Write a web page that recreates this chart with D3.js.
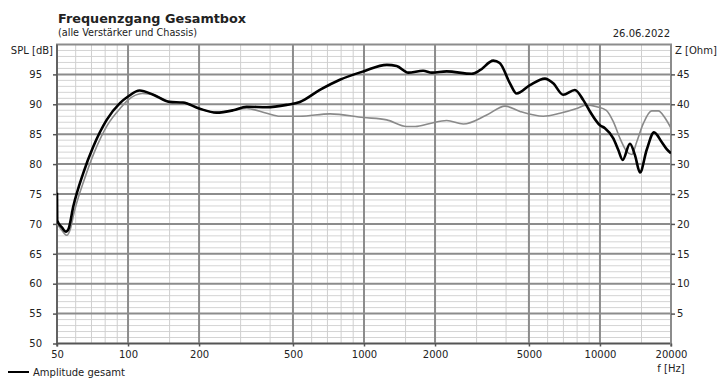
<!DOCTYPE html>
<html><head><meta charset="utf-8">
<script src="https://cdn.jsdelivr.net/npm/d3@7"></script>
<style>
body{margin:0;background:#fff}
svg{display:block}
text{font-family:"DejaVu Sans",sans-serif;fill:#222}
</style>
</head><body>
<svg id="c" width="720" height="381"></svg>
<script>
// ---- data ----
const freqBlack = [50, 50.1, 52.5, 54.5, 56, 58.6, 64.6, 71.2, 81.2, 92.4, 100, 112, 128, 150, 171, 200, 237, 279, 318, 387, 470, 535, 650, 790, 993, 1250, 1375, 1540, 1780, 1940, 2240, 2860, 3100, 3530, 3760, 4155, 4435, 5050, 5845, 6340, 6980, 7830, 8500, 9070, 10000, 10500, 11390, 11950, 12480, 13400, 14070, 14780, 15780, 16940, 18260, 19180, 20000];
const splBlack  = [75.2, 70.6, 69.4, 68.7, 69.2, 72.9, 78.5, 82.9, 87.4, 90.2, 91.3, 92.3, 91.6, 90.4, 90.3, 89.3, 88.6, 89.0, 89.6, 89.5, 89.9, 90.4, 92.4, 94.1, 95.5, 96.6, 96.4, 95.3, 95.6, 95.3, 95.5, 95.1, 95.7, 97.3, 96.9, 93.5, 91.8, 93.2, 94.3, 93.5, 91.6, 92.4, 90.7, 88.8, 86.5, 86.0, 84.3, 82.4, 80.7, 83.4, 81.5, 78.6, 82.4, 85.3, 83.7, 82.5, 81.8];
const freqGray  = [50, 52.5, 55, 57, 59, 65.5, 72, 82, 93.5, 100, 115, 130, 150, 175, 200, 237, 279, 318, 387, 440, 535, 718, 993, 1248, 1515, 1650, 1904, 2241, 2636, 3312, 3962, 4583, 5752, 6770, 7966, 8787, 9693, 10640, 11390, 12160, 12990, 13630, 14310, 15270, 16560, 17670, 18870, 20000];
const splGray   = [70.0, 68.9, 68.1, 69.2, 71.8, 77.6, 82.0, 86.6, 89.5, 90.7, 91.8, 91.5, 90.4, 90.2, 89.3, 88.6, 89.0, 89.3, 88.5, 88.0, 88.0, 88.4, 87.8, 87.4, 86.3, 86.3, 86.8, 87.3, 86.7, 88.2, 89.7, 88.8, 88.0, 88.5, 89.3, 89.9, 89.6, 89.0, 87.1, 84.3, 82.1, 81.6, 83.7, 86.8, 88.9, 88.9, 87.7, 86.0];
const xTicks = [50, 100, 200, 500, 1000, 2000, 5000, 10000, 20000];
const xMajorGrid = [100, 200, 500, 1000, 2000, 5000, 10000];
const xMinorGrid = [60, 70, 80, 90, 150, 300, 400, 600, 700, 800, 900, 1500, 3000, 4000, 6000, 7000, 8000, 9000, 15000];
const splTicks = [50, 55, 60, 65, 70, 75, 80, 85, 90, 95];
const zTicks = [5, 10, 15, 20, 25, 30, 35, 40, 45];

// ---- layout ----
const L = 57, R = 671, T = 44.5, B = 343.5;
const svg = d3.select("#c");
const x = d3.scaleLog().domain([50, 20000]).range([L, R]);
const y = d3.scaleLinear().domain([50, 100]).range([B, T]);
const yZ = d3.scaleLinear().domain([0, 50]).range([B, T]);

const g = svg.append("g");
// minor horizontal grid
g.selectAll(".hmin").data(d3.range(51, 100).filter(v => v % 5 !== 0)).join("line")
  .attr("x1", L).attr("x2", R).attr("y1", d => y(d)).attr("y2", d => y(d))
  .attr("stroke", "#d4d4d4").attr("stroke-width", 1);
// minor vertical grid
g.selectAll(".vmin").data(xMinorGrid).join("line")
  .attr("x1", d => x(d)).attr("x2", d => x(d)).attr("y1", T).attr("y2", B)
  .attr("stroke", "#cfcfcf").attr("stroke-width", 1);
// major horizontal grid
g.selectAll(".hmaj").data(splTicks.slice(1)).join("line")
  .attr("x1", L).attr("x2", R).attr("y1", d => y(d)).attr("y2", d => y(d))
  .attr("stroke", "#8c8c8c").attr("stroke-width", 2);
// major vertical grid
g.selectAll(".vmaj").data(xMajorGrid).join("line")
  .attr("x1", d => x(d)).attr("x2", d => x(d)).attr("y1", T).attr("y2", B)
  .attr("stroke", "#8c8c8c").attr("stroke-width", 2);
// frame
g.append("rect").attr("x", L).attr("y", T).attr("width", R - L).attr("height", B - T)
  .attr("fill", "none").attr("stroke", "#8c8c8c").attr("stroke-width", 2);
g.append("line").attr("x1", L).attr("x2", L).attr("y1", T).attr("y2", B + 3).attr("stroke", "#555").attr("stroke-width", 1.5);
g.append("line").attr("x1", L).attr("x2", R).attr("y1", B).attr("y2", B).attr("stroke", "#555").attr("stroke-width", 1.5);
g.append("line").attr("x1", R).attr("x2", R).attr("y1", T).attr("y2", B + 3).attr("stroke", "#8c8c8c").attr("stroke-width", 2);

// axes
function styleAxis(sel) {
  sel.select(".domain").remove();
  sel.selectAll(".tick line").attr("stroke", "#555").attr("stroke-width", 1.5);
  sel.selectAll(".tick text").attr("font-family", "DejaVu Sans").attr("font-size", 10).attr("fill", "#222");
}
svg.append("g").attr("transform", `translate(${L},0)`)
  .call(d3.axisLeft(y).tickValues(splTicks).tickSize(4).tickPadding(11).tickFormat(d3.format("d")))
  .call(styleAxis);
svg.append("g").attr("transform", `translate(${R},0)`)
  .call(d3.axisRight(yZ).tickValues(zTicks).tickSize(4).tickPadding(2).tickFormat(d3.format("d")))
  .call(styleAxis);
svg.append("g").attr("transform", `translate(0,${B})`)
  .call(d3.axisBottom(x).tickValues(xTicks).tickSize(3).tickPadding(4.5).tickFormat(d3.format("d")))
  .call(styleAxis);

// curves
svg.append("clipPath").attr("id", "clip").append("rect")
  .attr("x", L).attr("y", T).attr("width", R - L).attr("height", B - T);
const line = d3.line().x(d => x(d[0])).y(d => y(d[1])).curve(d3.curveMonotoneX);
svg.append("path").datum(d3.zip(freqGray, splGray)).attr("clip-path", "url(#clip)")
  .attr("d", line).attr("fill", "none").attr("stroke", "#8a8a8a").attr("stroke-width", 1.6);
svg.append("path").datum(d3.zip(freqBlack, splBlack)).attr("clip-path", "url(#clip)")
  .attr("d", line).attr("fill", "none").attr("stroke", "#000").attr("stroke-width", 2.6)
  .attr("stroke-linejoin", "round");

// texts
svg.append("text").attr("x", 58).attr("y", 23).attr("font-size", 12.8).attr("font-weight", "bold")
  .attr("fill", "#111").text("Frequenzgang Gesamtbox");
svg.append("text").attr("x", 58).attr("y", 35.5).attr("font-size", 9.7).text("(alle Verstärker und Chassis)");
svg.append("text").attr("x", 670).attr("y", 37).attr("font-size", 10).attr("text-anchor", "end").text("26.06.2022");
svg.append("text").attr("x", 53).attr("y", 54).attr("font-size", 10).attr("text-anchor", "end").text("SPL [dB]");
svg.append("text").attr("x", 675).attr("y", 54).attr("font-size", 10).text("Z [Ohm]");
svg.append("text").attr("x", 671).attr("y", 372).attr("font-size", 10).attr("text-anchor", "middle").text("f [Hz]");
// legend
svg.append("line").attr("x1", 8).attr("x2", 29).attr("y1", 372).attr("y2", 372).attr("stroke", "#000").attr("stroke-width", 2);
svg.append("text").attr("x", 33).attr("y", 376).attr("font-size", 10).text("Amplitude gesamt");
</script>
</body></html>
